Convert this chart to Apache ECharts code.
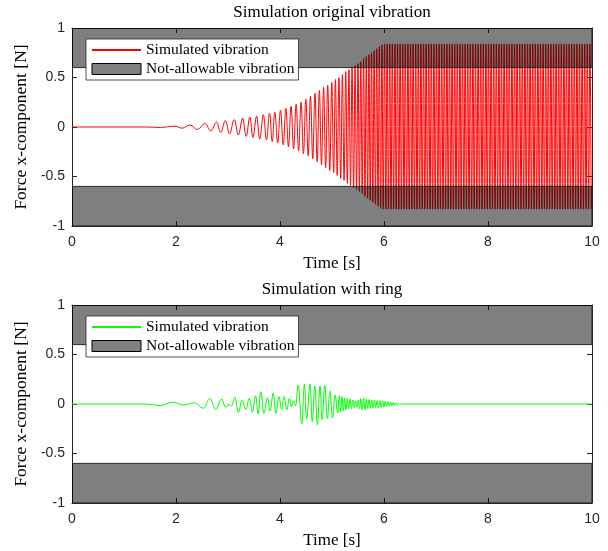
<!DOCTYPE html>
<html>
<head>
<meta charset="utf-8">
<script src="https://cdn.jsdelivr.net/npm/echarts@6/dist/echarts.min.js"></script>
<style>
html,body{margin:0;padding:0;background:#fff;}
#chart{width:608px;height:551px;}
</style>
</head>
<body>
<div id="chart"></div>
<script>
// ---- data ----
// Top plot: extrema of the original vibration (time [s], force [N])
const redTime = [0, 1.40, 1.70, 1.98, 2.12, 2.27, 2.41, 2.56, 2.67, 2.78,
  2.86, 2.95, 3.03, 3.12, 3.20, 3.28, 3.35, 3.42, 3.48, 3.55,
  3.61, 3.68, 3.74, 3.80, 3.85, 3.90, 3.955,
  4.01, 4.062, 4.113, 4.163, 4.213, 4.262, 4.310, 4.358, 4.405, 4.451,
  4.497, 4.542, 4.586, 4.630, 4.673, 4.715, 4.757, 4.798, 4.838, 4.878,
  4.918, 4.957, 4.996,
  5.031, 5.066, 5.100, 5.134, 5.167, 5.200, 5.232, 5.264, 5.295, 5.326,
  5.356, 5.386, 5.415, 5.444, 5.472, 5.500, 5.527, 5.554, 5.581, 5.607,
  5.633, 5.659, 5.685, 5.710, 5.735, 5.760, 5.785, 5.810, 5.835, 5.860,
  5.885, 5.910, 5.935, 5.960, 5.985,
  6.010, 6.035, 6.060, 6.085, 6.110, 6.135, 6.160, 6.185,
  6.210, 6.235, 6.260, 6.285, 6.310, 6.335, 6.360, 6.385,
  6.410, 6.435, 6.460, 6.485, 6.510, 6.535, 6.560, 6.585,
  6.610, 6.635, 6.660, 6.685, 6.710, 6.735, 6.760, 6.785,
  6.810, 6.835, 6.860, 6.885, 6.910, 6.935, 6.960, 6.985,
  7.010, 7.035, 7.060, 7.085, 7.110, 7.135, 7.160, 7.185,
  7.210, 7.235, 7.260, 7.285, 7.310, 7.335, 7.360, 7.385,
  7.410, 7.435, 7.460, 7.485, 7.510, 7.535, 7.560, 7.585,
  7.610, 7.635, 7.660, 7.685, 7.710, 7.735, 7.760, 7.785,
  7.810, 7.835, 7.860, 7.885, 7.910, 7.935, 7.960, 7.985,
  8.010, 8.035, 8.060, 8.085, 8.110, 8.135, 8.160, 8.185,
  8.210, 8.235, 8.260, 8.285, 8.310, 8.335, 8.360, 8.385,
  8.410, 8.435, 8.460, 8.485, 8.510, 8.535, 8.560, 8.585,
  8.610, 8.635, 8.660, 8.685, 8.710, 8.735, 8.760, 8.785,
  8.810, 8.835, 8.860, 8.885, 8.910, 8.935, 8.960, 8.985,
  9.010, 9.035, 9.060, 9.085, 9.110, 9.135, 9.160, 9.185,
  9.210, 9.235, 9.260, 9.285, 9.310, 9.335, 9.360, 9.385,
  9.410, 9.435, 9.460, 9.485, 9.510, 9.535, 9.560, 9.585,
  9.610, 9.635, 9.660, 9.685, 9.710, 9.735, 9.760, 9.785,
  9.810, 9.835, 9.860, 9.885, 9.910, 9.935, 9.960, 9.985];
const redForce = [0, 0, -0.004, 0.008, -0.012, 0.02, -0.025, 0.035, -0.04, 0.05,
  -0.055, 0.065, -0.07, 0.075, -0.08, 0.09, -0.095, 0.10, -0.105, 0.11,
  -0.12, 0.125, -0.13, 0.14, -0.145, 0.15, -0.16,
  0.17, -0.18, 0.19, -0.20, 0.21, -0.22, 0.23, -0.24, 0.25, -0.27,
  0.28, -0.29, 0.31, -0.32, 0.34, -0.35, 0.37, -0.38, 0.40, -0.41,
  0.42, -0.44, 0.45,
  -0.46, 0.48, -0.49, 0.50, -0.52, 0.53, -0.54, 0.56, -0.57, 0.58,
  -0.59, 0.60, -0.61, 0.62, -0.63, 0.64, -0.65, 0.66, -0.67, 0.69,
  -0.70, 0.71, -0.72, 0.73, -0.74, 0.75, -0.76, 0.77, -0.78, 0.79,
  -0.80, 0.81, -0.82, 0.83, -0.83,
  0.84, -0.83, 0.84, -0.83, 0.84, -0.83, 0.84, -0.83,
  0.84, -0.83, 0.84, -0.83, 0.84, -0.83, 0.84, -0.83,
  0.84, -0.83, 0.84, -0.83, 0.84, -0.83, 0.84, -0.83,
  0.84, -0.83, 0.84, -0.83, 0.84, -0.83, 0.84, -0.83,
  0.84, -0.83, 0.84, -0.83, 0.84, -0.83, 0.84, -0.83,
  0.84, -0.83, 0.84, -0.83, 0.84, -0.83, 0.84, -0.83,
  0.84, -0.83, 0.84, -0.83, 0.84, -0.83, 0.84, -0.83,
  0.84, -0.83, 0.84, -0.83, 0.84, -0.83, 0.84, -0.83,
  0.84, -0.83, 0.84, -0.83, 0.84, -0.83, 0.84, -0.83,
  0.84, -0.83, 0.84, -0.83, 0.84, -0.83, 0.84, -0.83,
  0.84, -0.83, 0.84, -0.83, 0.84, -0.83, 0.84, -0.83,
  0.84, -0.83, 0.84, -0.83, 0.84, -0.83, 0.84, -0.83,
  0.84, -0.83, 0.84, -0.83, 0.84, -0.83, 0.84, -0.83,
  0.84, -0.83, 0.84, -0.83, 0.84, -0.83, 0.84, -0.83,
  0.84, -0.83, 0.84, -0.83, 0.84, -0.83, 0.84, -0.83,
  0.84, -0.83, 0.84, -0.83, 0.84, -0.83, 0.84, -0.83,
  0.84, -0.83, 0.84, -0.83, 0.84, -0.83, 0.84, -0.83,
  0.84, -0.83, 0.84, -0.83, 0.84, -0.83, 0.84, -0.83,
  0.84, -0.83, 0.84, -0.83, 0.84, -0.83, 0.84, -0.83,
  0.84, -0.83, 0.84, -0.83, 0.84, -0.83, 0.84, -0.83];

// Bottom plot: extrema of the vibration with ring (time [s], force [N])
const greenTime = [0, 1.40, 1.69, 1.95, 2.15, 2.35, 2.53, 2.65, 2.76, 2.88,
  2.95, 3.02, 3.07, 3.13, 3.20, 3.27, 3.34, 3.41, 3.47, 3.53,
  3.58, 3.63, 3.69, 3.76, 3.81, 3.87, 3.92, 3.98, 4.03, 4.08,
  4.13, 4.18, 4.22, 4.26, 4.30, 4.35, 4.42, 4.47, 4.51, 4.58,
  4.62, 4.67, 4.72, 4.77, 4.81, 4.86, 4.91, 4.96, 5.01, 5.06,
  5.11, 5.14, 5.166, 5.192, 5.218, 5.244, 5.27, 5.296, 5.322, 5.348,
  5.374, 5.40, 5.426, 5.452, 5.478, 5.504, 5.53, 5.556, 5.582, 5.608,
  5.634, 5.66, 5.686, 5.712, 5.738, 5.764, 5.79, 5.816, 5.842, 5.868,
  5.894, 5.92, 5.946, 5.972, 5.998, 6.024, 6.05, 6.076, 6.102, 6.128,
  6.154, 6.18, 6.206, 6.232, 6.258, 6.284, 6.31, 6.336, 6.362, 6.40,
  10];
const greenForce = [0, 0, -0.015, 0.017, -0.01, 0.012, -0.044, 0.057, -0.054, 0.05,
  -0.034, -0.005, -0.02, 0.07, -0.084, 0.04, -0.057, 0.057, -0.084, 0.084,
  -0.10, 0.125, -0.094, 0.064, -0.07, 0.108, -0.094, 0.074, -0.054, 0.075,
  -0.06, 0.055, -0.03, 0.03, -0.02, 0.19, -0.2, 0.2, -0.15, 0.2,
  -0.18, 0.18, -0.21, 0.18, -0.16, 0.19, -0.15, 0.13, -0.14, 0.09,
  -0.09, 0.085, -0.08, 0.075, -0.07, 0.06, -0.055, 0.055, -0.05, 0.05,
  -0.045, 0.04, -0.035, 0.03, -0.035, 0.04, -0.05, 0.055, -0.06, 0.06,
  -0.055, 0.05, -0.045, 0.045, -0.045, 0.04, -0.04, 0.04, -0.035, 0.035,
  -0.04, 0.035, -0.035, 0.03, -0.03, 0.028, -0.027, 0.025, -0.024, 0.02,
  -0.018, 0.016, -0.014, 0.012, -0.01, 0.008, -0.006, 0.004, -0.002, 0,
  0];

// Not-allowable bands
const bandTimeRange = [0, 10];
const upperBand = [0.6, 1];
const lowerBand = [-1, -0.6];

const xTicks = [0, 2, 4, 6, 8, 10];
const yTicks = [-1, -0.5, 0, 0.5, 1];
const titles = ['Simulation original vibration', 'Simulation with ring'];
const legendLabels = ['Simulated vibration', 'Not-allowable vibration'];
const xLabel = 'Time [s]';
const yLabel = 'Force x-component [N]';

// ---- build chart ----
const pairs = (ts, vs) => ts.map((t, i) => [t, vs[i]]);
const bands = [
  [bandTimeRange[0], bandTimeRange[1], upperBand[0], upperBand[1]],
  [bandTimeRange[0], bandTimeRange[1], lowerBand[0], lowerBand[1]]
];

const AX = '#262626';
const SERIF = '"Liberation Serif", "Times New Roman", serif';
const SANS = '"Liberation Sans", Arial, sans-serif';

const gridTops = [28, 305];
const grids = gridTops.map(t => ({left: 72, width: 520, top: t, height: 198}));

function xAx(gi, pos) {
  return {
    type: 'value', gridIndex: gi, position: pos,
    min: xTicks[0], max: xTicks[xTicks.length - 1], interval: xTicks[1] - xTicks[0],
    axisLine: {show: true, onZero: false, lineStyle: {color: AX, width: 1}},
    axisTick: {show: true, inside: true, length: 5, lineStyle: {color: AX}},
    axisLabel: {show: pos === 'bottom', color: AX, fontFamily: SANS, fontSize: 14, margin: 9},
    splitLine: {show: false},
    name: pos === 'bottom' ? xLabel : titles[gi],
    nameLocation: 'middle',
    nameGap: pos === 'bottom' ? 29 : 7,
    nameTextStyle: {color: '#000', fontFamily: SERIF, fontSize: 17}
  };
}
function yAx(gi, pos) {
  return {
    type: 'value', gridIndex: gi, position: pos,
    min: yTicks[0], max: yTicks[yTicks.length - 1], interval: yTicks[1] - yTicks[0],
    axisLine: {show: true, onZero: false, lineStyle: {color: AX, width: 1}},
    axisTick: {show: true, inside: true, length: 5, lineStyle: {color: AX}},
    axisLabel: {show: pos === 'left', color: AX, fontFamily: SANS, fontSize: 14, margin: 7},
    splitLine: {show: false},
    name: pos === 'left' ? yLabel : '',
    nameLocation: 'middle',
    nameGap: 35,
    nameTextStyle: {color: '#000', fontFamily: SERIF, fontSize: 17.5}
  };
}

const bandRender = (params, api) => {
  const p1 = api.coord([api.value(0), api.value(3)]);
  const p2 = api.coord([api.value(1), api.value(2)]);
  return {
    type: 'rect',
    shape: {x: p1[0], y: p1[1], width: p2[0] - p1[0], height: p2[1] - p1[1]},
    style: {fill: 'rgba(0,0,0,0.5)', stroke: '#000', lineWidth: 0.8}
  };
};

const lineColors = ['#ff0000', '#00ff00'];
const lineData = [pairs(redTime, redForce), pairs(greenTime, greenForce)];

const series = [];
const legends = [];
[0, 1].forEach(gi => {
  series.push({
    name: 'sim' + gi, type: 'line', xAxisIndex: gi * 2, yAxisIndex: gi * 2,
    data: lineData[gi], symbol: 'none', showSymbol: false,
    smooth: 0.4, smoothMonotone: 'x',
    lineStyle: {color: lineColors[gi], width: 1}, itemStyle: {color: lineColors[gi]},
    z: 2, animation: false, clip: true
  });
  series.push({
    name: 'band' + gi, type: 'custom', xAxisIndex: gi * 2, yAxisIndex: gi * 2,
    data: bands, encode: {x: [0, 1], y: [2, 3]},
    renderItem: bandRender, itemStyle: {color: '#808080'},
    z: 5, animation: false, clip: true, silent: true
  });
  legends.push({
    orient: 'vertical', left: 86, top: gridTops[gi] + 11,
    data: [
      {name: 'sim' + gi, itemStyle: {opacity: 0}},
      {name: 'band' + gi, icon: 'rect', itemStyle: {color: '#808080', borderColor: '#000', borderWidth: 1}}
    ],
    formatter: n => n.startsWith('sim') ? legendLabels[0] : legendLabels[1],
    itemWidth: 49, itemHeight: 11, itemGap: 3,
    padding: [3, 4, 3, 5],
    backgroundColor: '#fff', borderColor: AX, borderWidth: 0.8,
    textStyle: {fontFamily: SERIF, fontSize: 15.5, color: '#000'},
    selectedMode: false, z: 10
  });
});

const chart = echarts.init(document.getElementById('chart'), null, {renderer: 'canvas'});
chart.setOption({
  backgroundColor: '#fff',
  animation: false,
  grid: grids,
  xAxis: [xAx(0, 'bottom'), xAx(0, 'top'), xAx(1, 'bottom'), xAx(1, 'top')],
  yAxis: [yAx(0, 'left'), yAx(0, 'right'), yAx(1, 'left'), yAx(1, 'right')],
  legend: legends,
  series: series
});
</script>
</body>
</html>
